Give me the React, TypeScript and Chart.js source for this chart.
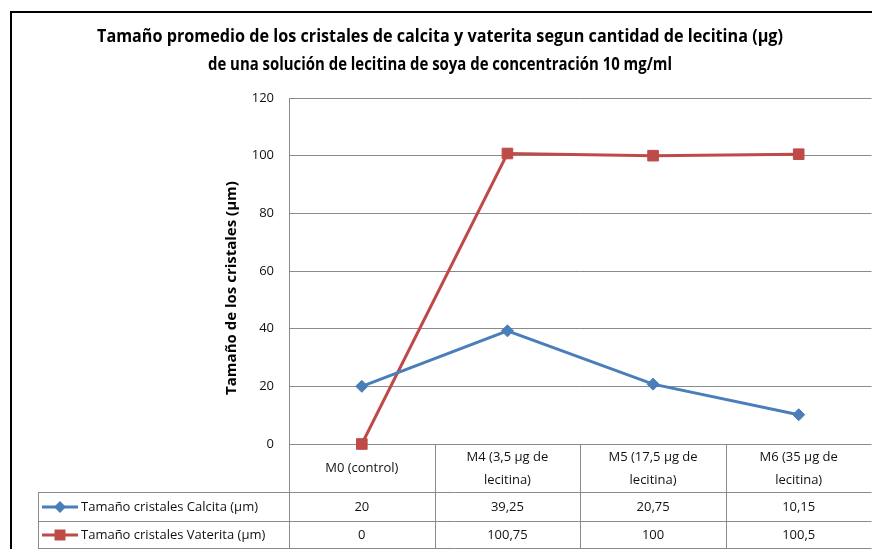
import { useEffect, useRef } from "react";
import { Chart, registerables } from "chart.js";

Chart.register(...registerables);

const titleLines = [
  "Tamaño promedio de los cristales de calcita y vaterita segun cantidad de lecitina (µg)",
  "de una solución de lecitina de soya de concentración 10 mg/ml",
];
const yAxisTitle = "Tamaño de los cristales (µm)";
const categories: string[][] = [
  ["M0 (control)"],
  ["M4 (3,5 µg de", "lecitina)"],
  ["M5 (17,5 µg de", "lecitina)"],
  ["M6 (35 µg de", "lecitina)"],
];
const seriesNames = ["Tamaño cristales Calcita (µm)", "Tamaño cristales Vaterita (µm)"];
const calcita = [20, 39.25, 20.75, 10.15];
const vaterita = [0, 100.75, 100, 100.5];
const yMin = 0;
const yMax = 120;
const yStep = 20;

const BLUE = "#4A7EBB";
const RED = "#BE4B48";
const GRID = "#8a8a8a";
const FONT = "'Open Sans', 'Liberation Sans', sans-serif";

const fmt = (v: number) => String(v).replace(".", ",");

function drawMarker(ctx: CanvasRenderingContext2D, kind: string, x: number, y: number) {
  ctx.beginPath();
  if (kind === "diamond") {
    const r = 6;
    ctx.moveTo(x, y - r);
    ctx.lineTo(x + r, y);
    ctx.lineTo(x, y + r);
    ctx.lineTo(x - r, y);
    ctx.closePath();
  } else {
    ctx.rect(x - 5.5, y - 5.5, 11, 11);
  }
  ctx.fill();
}

const decor = {
  id: "decor",
  beforeDraw(chart: any) {
    const ctx = chart.ctx as CanvasRenderingContext2D;
    ctx.save();
    ctx.fillStyle = "#fff";
    ctx.fillRect(0, 0, chart.width, chart.height);
    ctx.restore();
  },
  beforeDatasetsDraw(chart: any) {
    const ctx = chart.ctx as CanvasRenderingContext2D;
    const ca = chart.chartArea;
    const xs = chart.scales.x;
    ctx.save();

    // frame
    ctx.strokeStyle = "#000";
    ctx.lineWidth = 2;
    ctx.beginPath();
    ctx.moveTo(11, chart.height + 5);
    ctx.lineTo(11, 12);
    ctx.lineTo(chart.width + 5, 12);
    ctx.stroke();

    // title
    ctx.fillStyle = "#000";
    ctx.textAlign = "center";
    ctx.textBaseline = "alphabetic";
    ctx.font = `bold 17px ${FONT}`;
    ctx.fillText(titleLines[0], 440, 42, 686);
    ctx.fillText(titleLines[1], 440, 70, 464);

    // y axis title
    ctx.save();
    ctx.translate(232, 288);
    ctx.rotate(-Math.PI / 2);
    ctx.textBaseline = "middle";
    ctx.font = `bold 15px ${FONT}`;
    ctx.fillText(yAxisTitle, 0, 0, 222);
    ctx.restore();

    // data table
    ctx.textBaseline = "middle";
    const p0 = xs.getPixelForValue(0);
    const p1 = xs.getPixelForValue(1);
    const half = (p1 - p0) / 2;
    const headerTop = ca.bottom;
    const row1Top = 492;
    const row2Top = 521;
    const bottom = 548;
    const tableLeft = 38;

    ctx.strokeStyle = GRID;
    ctx.lineWidth = 1;
    ctx.beginPath();
    for (let i = 0; i <= categories.length; i++) {
      const x = Math.round(xs.getPixelForValue(i) - half) + 0.5;
      ctx.moveTo(x, headerTop);
      ctx.lineTo(x, bottom + 2);
    }
    [row1Top, row2Top, bottom].forEach((y) => {
      ctx.moveTo(tableLeft, y + 0.5);
      ctx.lineTo(ca.right, y + 0.5);
    });
    ctx.moveTo(tableLeft + 0.5, row1Top);
    ctx.lineTo(tableLeft + 0.5, bottom + 2);
    ctx.stroke();

    ctx.fillStyle = "#111";
    ctx.font = `13px ${FONT}`;
    ctx.textAlign = "center";
    categories.forEach((lines, i) => {
      const cx = xs.getPixelForValue(i);
      if (lines.length === 1) {
        ctx.fillText(lines[0], cx, 468, half * 2 - 10);
      } else {
        ctx.fillText(lines[0], cx, 457, half * 2 - 10);
        ctx.fillText(lines[1], cx, 480, half * 2 - 10);
      }
    });

    const rows = [
      { name: seriesNames[0], data: calcita, color: BLUE, marker: "diamond", y: 507 },
      { name: seriesNames[1], data: vaterita, color: RED, marker: "square", y: 535 },
    ];
    rows.forEach((r) => {
      ctx.strokeStyle = r.color;
      ctx.fillStyle = r.color;
      ctx.lineWidth = 3;
      ctx.beginPath();
      ctx.moveTo(42, r.y);
      ctx.lineTo(78, r.y);
      ctx.stroke();
      drawMarker(ctx, r.marker, 60, r.y);
      ctx.fillStyle = "#111";
      ctx.textAlign = "left";
      ctx.fillText(r.name, 81, r.y, 205);
      ctx.textAlign = "center";
      r.data.forEach((v, i) => {
        ctx.fillText(fmt(v), xs.getPixelForValue(i), r.y);
      });
    });

    ctx.restore();
  },
};

export default function App() {
  const ref = useRef<HTMLCanvasElement | null>(null);
  useEffect(() => {
    if (!ref.current) return;
    const chart = new Chart(ref.current, {
      type: "line",
      data: {
        labels: categories,
        datasets: [
          {
            label: seriesNames[0],
            data: calcita,
            borderColor: BLUE,
            backgroundColor: BLUE,
            borderWidth: 3,
            pointStyle: "rectRot",
            pointRadius: 6,
            pointBorderWidth: 1,
            pointBackgroundColor: BLUE,
            pointBorderColor: BLUE,
            tension: 0,
            clip: false,
          } as any,
          {
            label: seriesNames[1],
            data: vaterita,
            borderColor: RED,
            backgroundColor: RED,
            borderWidth: 3,
            pointStyle: "rect",
            pointRadius: 7.5,
            pointBorderWidth: 1,
            pointBackgroundColor: RED,
            pointBorderColor: RED,
            tension: 0,
            clip: false,
          } as any,
        ],
      },
      options: {
        responsive: false,
        animation: false,
        devicePixelRatio: 1,
        layout: { padding: { top: 98, bottom: 560 - 444, left: 0, right: 880 - 874 } },
        plugins: {
          legend: { display: false },
          title: { display: false },
          tooltip: { enabled: false },
        },
        scales: {
          x: {
            type: "category",
            offset: true,
            display: false,
          },
          y: {
            min: yMin,
            max: yMax,
            ticks: {
              stepSize: yStep,
              color: "#111",
              font: { family: FONT, size: 13 },
              padding: 15,
            },
            grid: { color: GRID, drawTicks: false, lineWidth: 1 },
            border: { display: true, color: GRID, width: 1 },
            afterFit: (s: any) => {
              s.width = 289;
            },
          } as any,
        },
      },
      plugins: [decor],
    });
    return () => chart.destroy();
  }, []);
  return (
    <div style={{ position: "fixed", left: 0, top: 0, width: 872, height: 549, overflow: "hidden", background: "#fff" }}>
      <canvas ref={ref} width={880} height={560} style={{ display: "block" }} />
    </div>
  );
}
